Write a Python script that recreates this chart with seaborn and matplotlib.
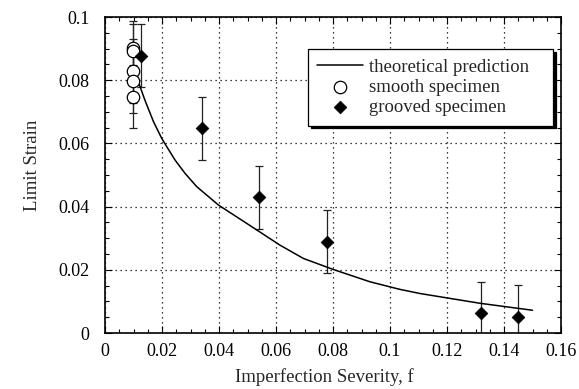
import numpy as np
import pandas as pd
import matplotlib
matplotlib.use("Agg")
import matplotlib.pyplot as plt
import seaborn as sns
from matplotlib.ticker import MultipleLocator, FuncFormatter

# theoretical prediction curve
theory_f = [0.0119, 0.0140, 0.0170, 0.0199, 0.0213, 0.0246, 0.0281, 0.0322,
            0.0398, 0.0497, 0.0614, 0.0696, 0.0801, 0.0930, 0.1035, 0.1105, 0.1316, 0.1500]
theory_strain = [0.0790, 0.0737, 0.0669, 0.0616, 0.0595, 0.0547, 0.0505, 0.0463,
                 0.0405, 0.0347, 0.0278, 0.0236, 0.0201, 0.0162, 0.0138, 0.0125, 0.0094, 0.0072]

# smooth specimen
smooth_f = [0.0097, 0.0097, 0.0097, 0.0097, 0.0097]
smooth_strain = [0.0903, 0.0892, 0.0829, 0.0797, 0.0748]
smooth_err = [0.0085, 0.0085, 0.0100, 0.0100, 0.0100]

# grooved specimen
grooved_f = [0.0126, 0.0339, 0.0540, 0.0780, 0.1320, 0.1450]
grooved_strain = [0.0877, 0.0648, 0.0429, 0.0289, 0.0062, 0.0052]
grooved_err = [0.0100, 0.0100, 0.0100, 0.0100, 0.0100, 0.0100]

x_ticks = [0, 0.02, 0.04, 0.06, 0.08, 0.1, 0.12, 0.14, 0.16]
y_ticks = [0, 0.02, 0.04, 0.06, 0.08, 0.1]

sns.set_style("ticks")
plt.rcParams['font.family'] = ['Liberation Serif', 'DejaVu Serif']

fig = plt.figure(figsize=(5.79, 3.89), dpi=100)
ax = fig.add_axes([105 / 579, 56 / 389, 456 / 579, 316 / 389])

theory_df = pd.DataFrame({"f": theory_f, "strain": theory_strain})
smooth_df = pd.DataFrame({"f": smooth_f, "strain": smooth_strain})
grooved_df = pd.DataFrame({"f": grooved_f, "strain": grooved_strain})

# error bars
ax.errorbar(smooth_f, smooth_strain, yerr=smooth_err, fmt='none', ecolor='#222222',
            elinewidth=0.9, capsize=3, capthick=0.9, zorder=2)
ax.errorbar(grooved_f, grooved_strain, yerr=grooved_err, fmt='none', ecolor='#222222',
            elinewidth=0.9, capsize=3, capthick=0.9, zorder=2)

sns.lineplot(data=theory_df, x="f", y="strain", ax=ax, color='black', linewidth=1.1,
             label="theoretical prediction", zorder=3, sort=False)
sns.scatterplot(data=smooth_df, x="f", y="strain", ax=ax, marker='o', s=80,
                facecolor='white', edgecolor='black', linewidth=0.9,
                label="smooth specimen", zorder=4)
sns.scatterplot(data=grooved_df, x="f", y="strain", ax=ax, marker='D', s=42,
                color='black', edgecolor='black', linewidth=0.5,
                label="grooved specimen", zorder=4)

ax.set_xlim(0, 0.16)
ax.set_ylim(0, 0.1)
ax.set_xticks(x_ticks)
ax.set_yticks(y_ticks)
fmt = FuncFormatter(lambda v, p: ('%g' % round(v, 4)))
ax.xaxis.set_major_formatter(fmt)
ax.yaxis.set_major_formatter(fmt)
ax.xaxis.set_minor_locator(MultipleLocator(0.005))
ax.yaxis.set_minor_locator(MultipleLocator(0.005))
ax.tick_params(which='both', direction='in', top=True, right=True, colors='black',
               labelsize=13, width=0.8)
ax.tick_params(which='major', length=5)
ax.tick_params(which='minor', length=3)
ax.tick_params(axis='x', which='major', pad=7)
ax.tick_params(axis='y', which='major', pad=11)
ax.grid(True, which='major', linestyle=(0, (1, 3)), color='black', linewidth=0.9)
for s in ax.spines.values():
    s.set_linewidth(1.2)
    s.set_color('black')

ax.set_xlabel("Imperfection Severity, f", fontsize=13.5)
ax.set_ylabel("Limit Strain", fontsize=13.5)
ax.xaxis.set_label_coords(0.48, -0.139)
ax.xaxis.label.set_va('center')
ax.yaxis.set_label_coords(-0.16, 0.53)
ax.yaxis.label.set_va('center')

leg = ax.legend(loc='upper left', bbox_to_anchor=(0.4452, 0.0, 0.537, 0.8987),
                mode='expand', borderaxespad=0,
                fontsize=13.5, frameon=True, fancybox=False,
                shadow={'color': 'black', 'alpha': 1},
                edgecolor='black', framealpha=1, handlelength=2.45, handletextpad=0.3,
                borderpad=0.5, labelspacing=0.17)
leg.get_frame().set_linewidth(0.9)

fig.savefig("out.png", dpi=100)
